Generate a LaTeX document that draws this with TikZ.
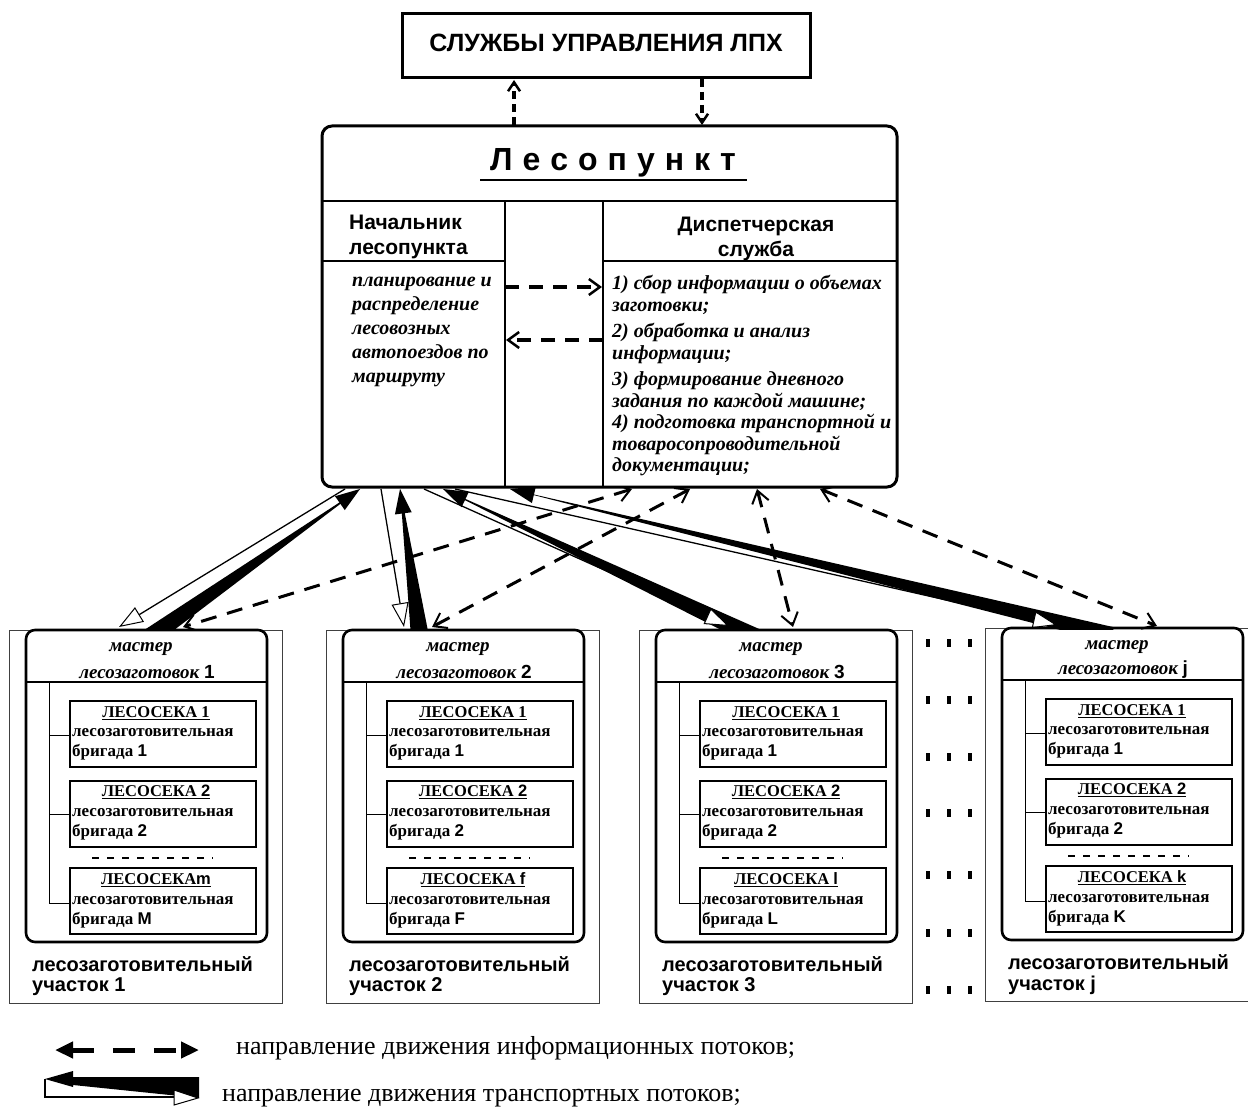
\documentclass[tikz,border=0pt]{standalone}
\usepackage{fontspec}
\setmainfont{Liberation Serif}
\setsansfont{Liberation Sans}
\usetikzlibrary{arrows.meta,calc}
\newcommand\hs{\hspace{10pt}}
\newcommand\wedgearrow[3]{%
  \fill (#1) -- ($(#2)!#3!90:(#1)$) -- ($(#2)!#3!-90:(#1)$) -- cycle;
  \fill (#1) -- ($(#1)!26pt!19:(#2)$) -- ($(#1)!26pt!-19:(#2)$) -- cycle;}
\begin{document}
\begin{tikzpicture}[x=1pt,y=-1pt,
  info/.style={line width=3pt, dash pattern=on 16pt off 11pt, {Straight Barb[length=12pt,width=17pt,line width=2pt]}-{Straight Barb[length=12pt,width=17pt,line width=2pt]}},
  midinfo/.style={line width=3.5pt, dash pattern=on 14pt off 10pt, -{Straight Barb[length=11pt,width=16pt,line width=2.5pt]}},
  topinfo/.style={line width=3.5pt, dash pattern=on 8pt off 5pt, -{Straight Barb[length=9pt,width=12pt,line width=2.5pt]}},
  thinarr/.style={line width=1.3pt, -{Triangle[fill=white,length=24pt,width=17pt,line width=1pt]}},
  mhead/.style={font=\bfseries\itshape\fontsize{19}{20}\selectfont, inner sep=0},
  lsk/.style={font=\bfseries\fontsize{16.5}{18}\selectfont, inner sep=0},
  brig/.style={anchor=west, font=\bfseries\fontsize{17}{18}\selectfont, inner sep=0},
  uch/.style={anchor=west, font=\sffamily\bfseries\fontsize{20}{22}\selectfont, inner sep=0},
  legtext/.style={anchor=west, inner sep=0, font=\fontsize{26}{30}\selectfont}
]
\useasboundingbox (0,0) rectangle (1248,1110);
\fill[white] (0,0) rectangle (1248,1110);

% top box
\node[draw,line width=3pt,minimum width=408,minimum height=64,inner sep=0] (lpx) at (606,46) {};
\node[inner sep=0,font=\sffamily\bfseries\fontsize{25}{30}\selectfont] (lpxt) at (606,43) {СЛУЖБЫ УПРАВЛЕНИЯ ЛПХ};

% lesopunkt
\node[draw,line width=3pt,rounded corners=10pt,minimum width=575,minimum height=361,inner sep=0] (lp) at (609.5,306.5) {};
\draw[line width=2.5pt] (322,201) -- (897,201);
\draw[line width=2pt] (505,201) -- (505,487);
\draw[line width=2pt] (603,201) -- (603,487);
\draw[line width=1.5pt] (322,261) -- (505,261);
\draw[line width=1.5pt] (603,261) -- (897,261);
\node[font=\sffamily\bfseries\fontsize{32}{36}\selectfont, inner sep=0] (title) at (613,163) {Л\hs е\hs с\hs о\hs п\hs у\hs н\hs к\hs т};
\draw[line width=2pt] (480,180) -- (747,180);
\node[anchor=north west,align=left,inner sep=0,font=\sffamily\bfseries\fontsize{21}{25}\selectfont] (nach) at (349,215) {Начальник\\лесопункта};
\node[align=center,inner sep=0,font=\sffamily\bfseries\fontsize{21}{25}\selectfont] (disp) at (756,239) {Диспетчерская\\служба};
\node[anchor=north west,align=left,inner sep=0,font=\bfseries\itshape\fontsize{20}{24}\selectfont] (plan) at (352,277) {планирование и\\распределение\\лесовозных\\автопоездов по\\маршруту};
\node[anchor=north west,align=left,inner sep=0,font=\bfseries\itshape\fontsize{20}{21.5}\selectfont] (tasks) at (612,275) {1) сбор информации о объемах\\заготовки;\\[5pt]2) обработка и анализ\\информации;\\[5pt]3) формирование дневного\\задания по каждой машине;\\4) подготовка транспортной и\\товаросопроводительной\\документации;};

% internal arrows
\coordinate (pa) at (505,287); \coordinate (pb) at (602,287);
\coordinate (qa) at (603,340); \coordinate (qb) at (506,340);
\draw[midinfo] (pa) -- (pb);
\draw[midinfo] (qa) -- (qb);

% top arrows
\coordinate (ua) at (514,125); \coordinate (ub) at (514,80);
\coordinate (da) at (702,79); \coordinate (db) at (702,125);
\draw[topinfo] (ua) -- (ub);
\draw[topinfo] (da) -- (db);

% coordinates for level arrows
\coordinate (w1a) at (360,489); \coordinate (w1b) at (150,637);
\coordinate (t1a) at (345,489); \coordinate (t1b) at (119,627);
\coordinate (w2a) at (400,489); \coordinate (w2b) at (420,637);
\coordinate (t2a) at (381,489); \coordinate (t2b) at (404,627);
\coordinate (w3a) at (443,489); \coordinate (w3b) at (755,637);
\coordinate (t3a) at (424,489); \coordinate (t3b) at (729,626);
\coordinate (w4a) at (510,489); \coordinate (w4b) at (1112,635);
\coordinate (t4a) at (455,489); \coordinate (t4b) at (1057,625);
\coordinate (i1a) at (632,489); \coordinate (i1b) at (183,627);
\coordinate (i2a) at (690,489); \coordinate (i2b) at (432,627);
\coordinate (i3a) at (757,489); \coordinate (i3b) at (793,627);
\coordinate (i4a) at (820,489); \coordinate (i4b) at (1157,626);

\begin{scope}
\clip (0,487) rectangle (1248,629.5);
\wedgearrow{w1a}{w1b}{9pt}
\wedgearrow{w2a}{w2b}{9pt}
\wedgearrow{w3a}{w3b}{9pt}
\wedgearrow{w4a}{w4b}{8pt}
\draw[thinarr] (t1a) -- (t1b);
\draw[thinarr] (t2a) -- (t2b);
\draw[thinarr] (t3a) -- (t3b);
\draw[thinarr] (t4a) -- (t4b);
\draw[info] (i1a) -- (i1b);
\draw[info] (i2a) -- (i2b);
\draw[info] (i3a) -- (i3b);
\draw[info] (i4a) -- (i4b);
\end{scope}

% master blocks
\foreach \ii/\dx/\dy/\mm/\sa/\sb in {1/0/0/1/m/M,2/317/0/2/f/F,3/630/0/3/l/L,4/976/-2/j/k/K}{
\begin{scope}[shift={(\dx,\dy)}]
 \draw[black!75, line width=1pt] (9,630) rectangle (282,1003);
 \draw[line width=2.6pt, rounded corners=9pt] (26,630) rectangle (267,942);
 \draw[line width=1.5pt] (26,682) -- (267,682);
 \node[mhead] (mA\ii) at (141,649) {мастер};
 \node[mhead] (mB\ii) at (147,672) {лесозаготовок \textsf{\upshape\mm}};
 \draw[line width=1pt] (49,682) -- (49,903);
 \foreach \yy/\tp in {735/701,814/781,903/868}{
   \draw[line width=1pt] (49,\yy) -- (70,\yy);
   \draw[line width=2.5pt] (70,\tp) rectangle (256,\tp+66);
 }
 \node[lsk] (lsA\ii) at (156,713) {\underline{ЛЕСОСЕКА 1}};
 \node[brig] (bA\ii) at (72,733) {лесозаготовительная};
 \node[brig] (cA\ii) at (72,752) {бригада \textsf{1}};
 \node[lsk] (lsB\ii) at (156,792) {\underline{ЛЕСОСЕКА \textsf{2}}};
 \node[brig] (bB\ii) at (72,813) {лесозаготовительная};
 \node[brig] (cB\ii) at (72,832) {бригада \textsf{2}};
 \node[lsk] (lsC\ii) at (156,880) {\underline{ЛЕСОСЕКА\ifnum\ii=1 \else\ \fi\textsf{\sa}}};
 \node[brig] (bC\ii) at (72,901) {лесозаготовительная};
 \node[brig] (cC\ii) at (72,920) {бригада \textsf{\sb}};
 \draw[line width=2.5pt, dash pattern=on 7pt off 8pt] (92,858) -- (213,858);
 \node[uch] (uA\ii) at (32,964) {лесозаготовительный};
 \node[uch] (uB\ii) at (32,987) {участок \mm};
\end{scope}}

% dots column
\foreach \yy in {643,700,757,813,875,933,990}
  \foreach \xx in {928,949,970}
    \fill (\xx-2,\yy-4) rectangle (\xx+2,\yy+4);

% legend
\coordinate (le1) at (55,1050); \coordinate (le2) at (199,1050);
\draw[line width=5pt, dash pattern=on 22pt off 19pt, {Triangle[length=18pt,width=16pt]}-{Triangle[length=18pt,width=16pt]}] (le1) -- (le2);
\node[legtext] (leg1) at (236,1048) {направление движения информационных потоков;};
\fill (45,1079) -- (73,1071) -- (73,1077) -- (199,1077) -- (199,1098) -- (73,1085) -- (73,1087) -- cycle;
\draw[line width=1.2pt] (45,1079) -- (45,1097) -- (174,1097);
\filldraw[fill=white, line width=1pt] (174,1090) -- (198,1098) -- (174,1105) -- cycle;
\node[legtext] (leg2) at (222,1098) {направление движения транспортных потоков;};
\end{tikzpicture}
\end{document}
